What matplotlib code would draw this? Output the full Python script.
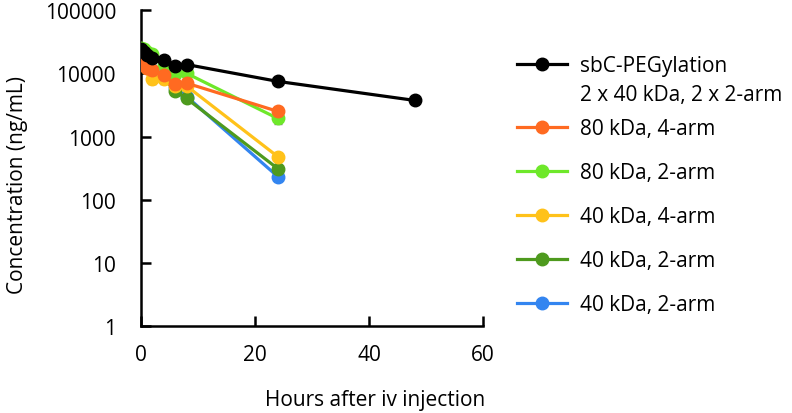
import matplotlib
matplotlib.use("Agg")
import matplotlib.pyplot as plt
from matplotlib.lines import Line2D

plt.rcParams['font.family'] = ['Open Sans', 'DejaVu Sans']

t_short = [0.083, 0.5, 1, 2, 4, 6, 8, 24]
t_long = [0.083, 0.5, 1, 2, 4, 6, 8, 24, 48]

labels = ["sbC-PEGylation", "80 kDa, 4-arm", "80 kDa, 2-arm",
          "40 kDa, 4-arm", "40 kDa, 2-arm", "40 kDa, 2-arm"]
label_line2 = "2 x 40 kDa, 2 x 2-arm"
colors = ["#000000", "#FF6A21", "#6EE82A", "#FFC21A", "#4E9A1E", "#3385F0"]

black_y = [24000, 22000, 19500, 17500, 16500, 12900, 13800, 7460, 3730]
black_e = [2500, 2000, 1800, 2000, 2500, 1500, 1200, 900, 300]
orange_y = [14500, 13500, 12000, 11500, 9300, 6700, 7000, 2500]
orange_e = [1500, 1500, 1500, 2000, 1500, 1000, 1000, 400]
lgreen_y = [25000, 24000, 22000, 20000, 13500, 9800, 10000, 1930]
lgreen_e = [2500, 2500, 2000, 2500, 2000, 1500, 1200, 350]
yellow_y = [16000, 14000, 12000, 8000, 8000, 6300, 6300, 480]
yellow_e = [1500, 1500, 1500, 1200, 1200, 800, 800, 60]
dgreen_y = [18000, 16000, 13000, 11000, 8500, 5200, 4000, 310]
dgreen_e = [1500, 1500, 1500, 1500, 1000, 700, 500, 40]
blue_y = [18500, 16500, 13500, 11500, 9000, 5800, 4300, 232]
blue_e = [1500, 1500, 1500, 1500, 1000, 700, 500, 30]

series = [
    (t_long, black_y, black_e),
    (t_short, orange_y, orange_e),
    (t_short, lgreen_y, lgreen_e),
    (t_short, yellow_y, yellow_e),
    (t_short, dgreen_y, dgreen_e),
    (t_short, blue_y, blue_e),
]

FS = 15

fig = plt.figure(figsize=(7.92, 4.14), dpi=100)
ax = fig.add_axes([0.178, 0.21, 0.432, 0.763])

for i in [5, 4, 3, 2, 1, 0]:
    t, y, e = series[i]
    ax.errorbar(t, y, yerr=e, color=colors[i], marker='o', markersize=9,
                linewidth=2.3, elinewidth=1.0, capsize=3, capthick=1.0,
                ecolor='#7f7f7f', zorder=3 + (6 - i))

ax.set_yscale('log')
ax.set_ylim(1, 100000)
ax.set_xlim(0, 60)
ax.set_xticks([0, 20, 40, 60])
ax.set_yticks([1, 10, 100, 1000, 10000, 100000])
ax.set_yticklabels(['1', '10', '100', '1000', '10000', '100000'])
ax.minorticks_off()
ax.spines['top'].set_visible(False)
ax.spines['right'].set_visible(False)
for s in ['left', 'bottom']:
    ax.spines[s].set_linewidth(1.8)
ax.tick_params(axis='x', direction='in', length=7, width=1.8, pad=13, labelsize=FS)
ax.tick_params(axis='y', direction='in', length=7, width=1.8, pad=18, labelsize=FS)

ax.set_xlabel('Hours after iv injection', fontsize=FS)
ax.xaxis.set_label_coords(0.684, -0.2)
ax.set_ylabel('Concentration (ng/mL)', fontsize=FS)
ax.yaxis.set_label_coords(-0.33, 0.45)

handles = [Line2D([], [], color=c, marker='o', markersize=9, linewidth=2.3) for c in colors]
common = dict(loc='upper left', frameon=False, fontsize=FS, handlelength=2.4,
              labelspacing=1.1, handletextpad=0.62)
leg1 = fig.legend(handles[:1], labels[:1], bbox_to_anchor=(0.629, 0.9097), **common)
leg2 = fig.legend(handles[1:], labels[1:], bbox_to_anchor=(0.629, 0.7575), **common)

fig.canvas.draw()
bb = leg1.get_texts()[0].get_window_extent()
x0 = bb.x0 / fig.bbox.width
fig.text(x0, 1 - 95 / 414, label_line2, fontsize=FS, va='center', ha='left')

fig.savefig('out.png', dpi=100)
